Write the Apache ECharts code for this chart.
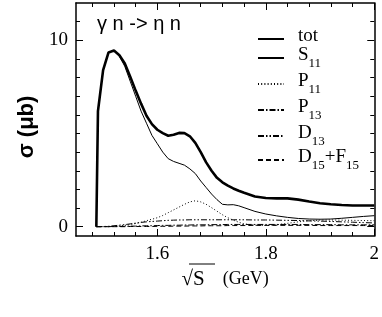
<!DOCTYPE html>
<html><head><meta charset="utf-8">
<script src="https://cdn.jsdelivr.net/npm/echarts@6/dist/echarts.min.js"></script>
<style>html,body{margin:0;padding:0;background:#fff}#c{width:382px;height:317px}</style>
</head><body><div id="c"></div>
<script>
// sqrt(s) in GeV
const W = [1.4875,1.4905,1.50,1.51,1.52,1.53,1.54,1.55,1.56,1.57,1.58,1.59,1.60,1.61,1.62,1.63,1.64,1.65,1.66,1.67,1.68,1.69,1.70,1.71,1.72,1.73,1.74,1.75,1.76,1.78,1.80,1.82,1.84,1.86,1.88,1.90,1.92,1.94,1.96,1.98,2.00];
const tot = [0,6.2,8.4,9.35,9.45,9.2,8.75,8.05,7.3,6.6,5.95,5.5,5.2,5.02,4.88,4.93,5.03,5.02,4.85,4.5,4.0,3.45,3.0,2.62,2.38,2.2,2.05,1.93,1.82,1.62,1.54,1.52,1.52,1.45,1.35,1.26,1.2,1.16,1.14,1.14,1.14];
const S11 = [0,6.2,8.4,9.35,9.45,9.15,8.6,7.8,7.0,6.2,5.55,4.9,4.45,4.0,3.65,3.5,3.4,3.3,3.1,2.85,2.45,2.1,1.75,1.45,1.2,1.17,1.18,1.12,1.02,0.82,0.68,0.58,0.5,0.44,0.41,0.4,0.41,0.45,0.5,0.55,0.59];
const P11 = [0,0,0,0.01,0.02,0.04,0.07,0.11,0.17,0.24,0.32,0.4,0.48,0.6,0.75,0.9,1.05,1.2,1.33,1.39,1.33,1.2,1.02,0.83,0.64,0.48,0.35,0.24,0.15,0.08,0.07,0.1,0.18,0.26,0.32,0.35,0.36,0.35,0.34,0.33,0.32];
const P13 = [0,0,0,0,0.01,0.01,0.02,0.03,0.03,0.04,0.05,0.05,0.06,0.07,0.07,0.08,0.08,0.09,0.09,0.1,0.1,0.1,0.11,0.11,0.11,0.12,0.12,0.12,0.12,0.12,0.12,0.12,0.12,0.12,0.11,0.11,0.11,0.1,0.1,0.1,0.1];
const D13 = [0,0,0.01,0.02,0.05,0.08,0.11,0.15,0.19,0.23,0.26,0.28,0.3,0.32,0.34,0.35,0.36,0.36,0.37,0.37,0.37,0.37,0.37,0.37,0.37,0.37,0.37,0.37,0.37,0.36,0.36,0.35,0.34,0.33,0.31,0.3,0.28,0.26,0.24,0.22,0.2];
const D15F15 = [0,0,0,0,0,0,0,0.01,0.01,0.01,0.01,0.01,0.02,0.02,0.02,0.03,0.03,0.03,0.04,0.04,0.04,0.05,0.05,0.05,0.05,0.06,0.06,0.06,0.06,0.07,0.07,0.07,0.07,0.07,0.07,0.06,0.06,0.06,0.06,0.06,0.06];

const seriesNames = ['tot','S11','P11','P13','D13','D15+F15'];
const seriesValues = [tot,S11,P11,P13,D13,D15F15];
const legendLabels = {'tot':'{m|tot}','S11':'{m|S}{s|11}','P11':'{m|P}{s|11}','P13':'{m|P}{s|13}','D13':'{m|D}{s|13}','D15+F15':'{m|D}{s|15}{m|+F}{s|15}'};

const xMajorTicks = [1.6,1.8,2.0];
const xTickLabels = ['1.6','1.8','2'];
const xMinorTicks = [1.48,1.52,1.56,1.64,1.68,1.72,1.76,1.84,1.88,1.92,1.96];
const yMajorTicks = [0,10];
const yTickLabels = ['0','10'];
const yMinorTicks = [1,2,3,4,5,6,7,8,9,11];

const styles = [
  {width:2.6, type:'solid'},
  {width:1, type:'solid'},
  {width:1, type:[1,2.2]},
  {width:1, type:[6,2,1.5,2]},
  {width:1, type:[6,2,1.5,2,1.5,2]},
  {width:1, type:[5,3]}
];

const serif = 'Liberation Serif';
const sans = 'Liberation Sans';
const X0 = 1.45, X1 = 2.0, Y0 = -0.5, Y1 = 12;

function xAx(pos, major, showLine, labels, extra){
  return Object.assign({
    type:'value', position:pos, min:X0, max:X1, gridIndex:0,
    axisLine:{show:showLine, onZero:false, lineStyle:{color:'#000', width:1.5}},
    axisTick:{show:true, inside:true, length: major?7:4, customValues: major?xMajorTicks:xMinorTicks, lineStyle:{color:'#000', width:1}},
    axisLabel: labels ? {show:true, customValues:xMajorTicks, color:'#000', fontFamily:serif, fontSize:19, margin:9,
      formatter:(v)=>{const i=xMajorTicks.findIndex(t=>Math.abs(t-v)<1e-6);return i>=0?xTickLabels[i]:'';}} : {show:false},
    splitLine:{show:false}
  }, extra||{});
}
function yAx(pos, major, showLine, labels, extra){
  return Object.assign({
    type:'value', position:pos, min:Y0, max:Y1, gridIndex:0,
    axisLine:{show:showLine, onZero:false, lineStyle:{color:'#000', width:1.5}},
    axisTick:{show:true, inside:true, length: major?7:4, customValues: major?yMajorTicks:yMinorTicks, lineStyle:{color:'#000', width:1}},
    axisLabel: labels ? {show:true, customValues:yMajorTicks, color:'#000', fontFamily:serif, fontSize:19, margin:8,
      formatter:(v)=>{const i=yMajorTicks.findIndex(t=>Math.abs(t-v)<1e-6);return i>=0?yTickLabels[i]:'';}} : {show:false},
    splitLine:{show:false}
  }, extra||{});
}

const legendTops = [27, 46, 72, 98, 124, 148];

const chart = echarts.init(document.getElementById('c'), null, {renderer:'canvas'});
chart.setOption({
  animation:false,
  backgroundColor:'#fff',
  grid:{left:76, right:5, top:3, bottom:81, containLabel:false},
  title:{text:'γ n -> η n', left:92, top:9, textStyle:{fontFamily:sans, fontSize:20, fontWeight:'normal', color:'#000'}},
  xAxis:[
    xAx('bottom', true, true, true, {name:'{r|√}{b|S}{g|    (GeV)}', nameLocation:'middle', nameGap:30,
      nameTextStyle:{fontFamily:serif, fontSize:18, color:'#000',
        rich:{r:{fontFamily:serif, fontSize:21, color:'#000'}, b:{fontFamily:serif, fontSize:21, color:'#000'}, g:{fontFamily:serif, fontSize:18, color:'#000'}}}}),
    xAx('bottom', false, false, false),
    xAx('top', true, true, false),
    xAx('top', false, false, false)
  ],
  yAxis:[
    yAx('left', true, true, true, {name:'σ (μb)', nameLocation:'middle', nameGap:30,
      nameTextStyle:{fontFamily:sans, fontSize:22, fontWeight:'bold', color:'#000', padding:[0,15,0,0]}}),
    yAx('left', false, false, false),
    yAx('right', true, true, false),
    yAx('right', false, false, false)
  ],
  legend: seriesNames.map((n,i)=>({
    data:[n], left:257, top:legendTops[i], itemWidth:26, itemHeight:12, padding:0,
    selectedMode:false,
    itemStyle:{opacity:0},
    formatter:(name)=>legendLabels[name],
    textStyle:{color:'#000', fontFamily:serif, padding:[0,0,0,9],
      rich:{m:{fontFamily:serif, fontSize:19, color:'#000', verticalAlign:'top', lineHeight:24},
            s:{fontFamily:serif, fontSize:13, color:'#000', verticalAlign:'bottom', lineHeight:13}}}
  })),
  series: seriesNames.map((n,i)=>({
    name:n, type:'line', xAxisIndex:0, yAxisIndex:0, symbol:'none', showSymbol:false,
    lineStyle:{color:'#000', width:styles[i].width, type:styles[i].type},
    itemStyle:{color:'#000'},
    z: 10-i,
    data: W.map((x,j)=>[x, seriesValues[i][j]])
  })),
  graphic:[{type:'line', shape:{x1:189, y1:264, x2:215, y2:264}, style:{stroke:'#000', lineWidth:1}}]
});
</script></body></html>
